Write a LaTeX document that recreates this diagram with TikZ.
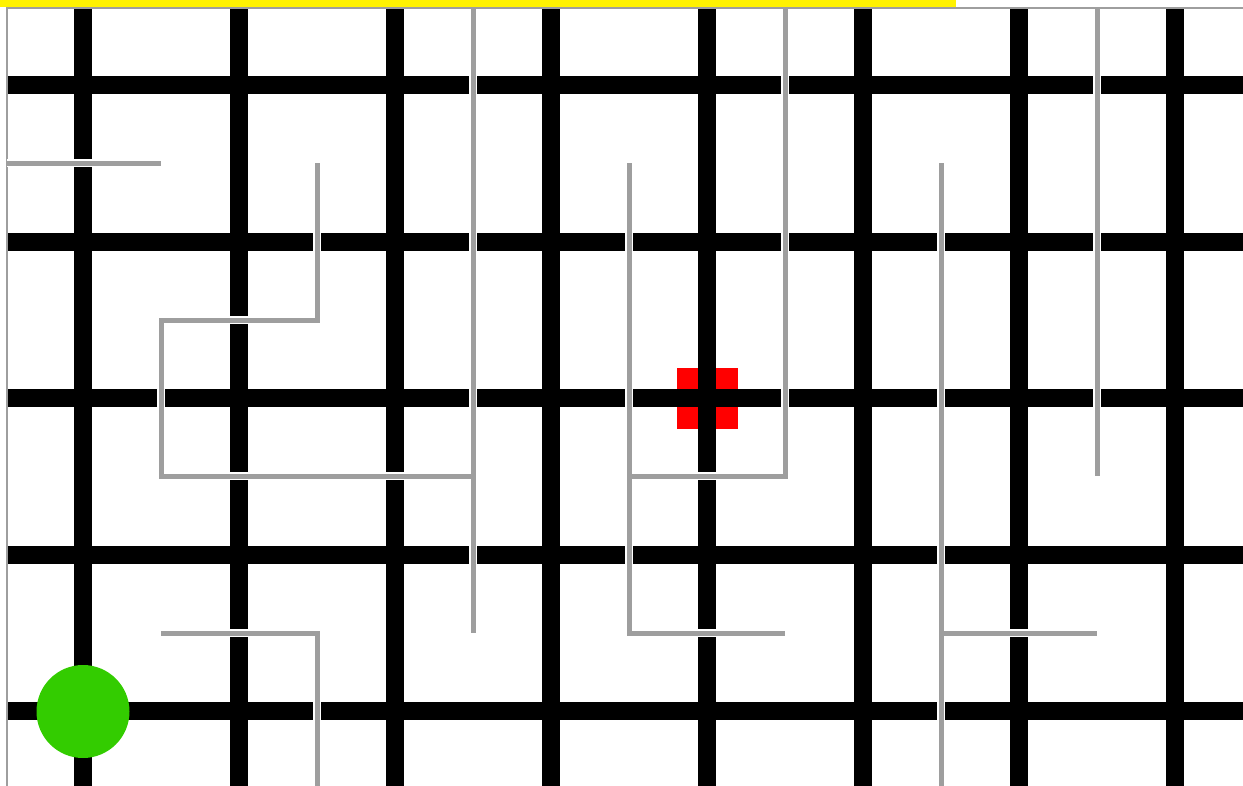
\documentclass[tikz,border=0pt]{standalone}
\usepackage{tikz}

\definecolor{wallgray}{RGB}{158,158,158}
\definecolor{ballgreen}{RGB}{51,204,0}

\begin{document}
\begin{tikzpicture}[x=1pt, y=-1pt,
      rail/.style={draw=black, line width=18pt},
      wall/.style={draw=wallgray, line width=5pt, preaction={draw=white, line width=8pt}},
      frame/.style={draw=wallgray, line width=2pt},
      target/.style={rectangle, fill=red, minimum size=61pt, inner sep=0pt},
      ball/.style={circle, fill=ballgreen, minimum size=93pt, inner sep=0pt}]
      \useasboundingbox (0,0) rectangle (1243,785);
      \clip (0,0) rectangle (1243,785);
      % banner and frame
      \fill[yellow] (0,0) rectangle (956,7);
      \draw[frame] (7,800) -- (7,8) -- (1260,8);
      % goal cell under the track
      \node[target] (goal) at (707,398) {};
      % track
      \foreach \x in {83,239,395,551,707,863,1019,1175}
        \draw[rail] (\x,9) -- (\x,790);
      \foreach \y in {85,241.5,398,554.5,711}
        \draw[rail] (8,\y) -- (1250,\y);
      % walls
      \draw[wall] (7,163) -- (161,163)
            (317,163) -- (317,320) -- (161,320) -- (161,476) -- (473,476)
            (473,9) -- (473,633)
            (629,163) -- (629,633) -- (785,633)
            (629,476) -- (785,476) -- (785,9)
            (941,163) -- (941,790)
            (941,633) -- (1097,633)
            (1097,9) -- (1097,476)
            (161,633) -- (317,633) -- (317,790);
      % player
      \node[ball] (player) at (83,711.5) {};
    \end{tikzpicture}
\end{document}
